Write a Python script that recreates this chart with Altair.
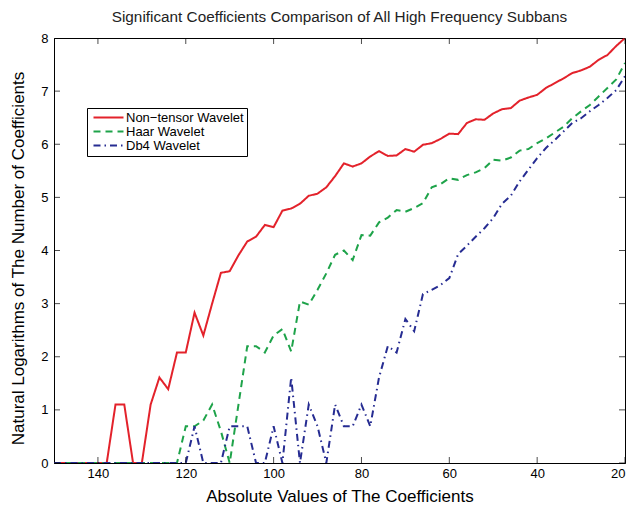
import altair as alt
import pandas as pd

# x positions (absolute coefficient values), 150 -> 20
x_vals = [150, 148, 146, 144, 142, 140, 138, 136, 134, 132, 130, 128, 126, 124, 122,
          120, 118, 116, 114, 112, 110, 108, 106, 104, 102, 100, 98, 96, 94, 92,
          90, 88, 86, 84, 82, 80, 78, 76, 74, 72, 70, 68, 66, 64, 62,
          60, 58, 56, 54, 52, 50, 48, 46, 44, 42, 40, 38, 36, 34, 32,
          30, 28, 26, 24, 22, 20]

nontensor = [0, 0, 0, 0, 0, 0, 0, 1.10, 1.10, 0, 0, 1.10, 1.61, 1.39, 2.08,
             2.08, 2.83, 2.40, 3.00, 3.58, 3.61, 3.91, 4.17, 4.26, 4.48, 4.44, 4.75, 4.79, 4.88, 5.03,
             5.07, 5.19, 5.40, 5.64, 5.58, 5.64, 5.77, 5.87, 5.78, 5.79, 5.91, 5.86, 5.99, 6.02, 6.10,
             6.20, 6.19, 6.40, 6.47, 6.46, 6.58, 6.66, 6.68, 6.82, 6.88, 6.93, 7.06, 7.15, 7.24, 7.34,
             7.39, 7.46, 7.59, 7.68, 7.85, 8.00]

haar = [0, 0, 0, 0, 0, 0, 0, 0, 0, 0, 0, 0, 0, 0, 0,
        0.69, 0.69, 0.80, 1.10, 0.60, 0, 1.10, 2.20, 2.20, 2.08, 2.40, 2.52, 2.10, 3.04, 2.98,
        3.26, 3.57, 3.92, 4.00, 3.82, 4.29, 4.28, 4.53, 4.62, 4.76, 4.73, 4.80, 4.89, 5.19, 5.25,
        5.36, 5.33, 5.42, 5.47, 5.55, 5.71, 5.69, 5.75, 5.88, 5.91, 6.02, 6.11, 6.22, 6.33, 6.49,
        6.62, 6.74, 6.90, 7.06, 7.22, 7.53]

db4 = [0, 0, 0, 0, 0, 0, 0, 0, 0, 0, 0, 0, 0, 0, 0,
       0, 0.69, 0, 0, 0, 0.69, 0.69, 0.69, 0, 0, 0.69, 0, 1.61, 0, 1.10,
       0.69, 0, 1.10, 0.69, 0.69, 1.10, 0.69, 1.61, 2.20, 2.08, 2.71, 2.48, 3.18, 3.26, 3.35,
       3.48, 3.93, 4.09, 4.26, 4.42, 4.61, 4.88, 5.03, 5.30, 5.52, 5.74, 5.93, 6.08, 6.24, 6.40,
       6.49, 6.62, 6.74, 6.87, 7.02, 7.28]

series_names = ["Non\u2212tensor Wavelet", "Haar Wavelet", "Db4 Wavelet"]
series_colors = ["#e3222b", "#1ea34a", "#262c92"]
series_dashes = [[1, 0], [7, 5], [7, 4, 1.5, 4]]

x_ticks = [140, 120, 100, 80, 60, 40, 20]
y_ticks = [0, 1, 2, 3, 4, 5, 6, 7, 8]
x_edges = [150, 20]
y_edges = [0, 8]

rows = []
for name, vals in zip(series_names, [nontensor, haar, db4]):
    for xv, yv in zip(x_vals, vals):
        rows.append({"x": xv, "y": yv, "series": name})
df = pd.DataFrame(rows)

tx_df = pd.DataFrame([{"x": t, "y": e} for t in x_ticks for e in y_edges])
ty_df = pd.DataFrame([{"x": e, "y": t} for t in y_ticks for e in x_edges])

FONT = "Liberation Sans"

x_scale = alt.Scale(domain=[20, 150], reverse=True, nice=False, zero=False)
y_scale = alt.Scale(domain=[0, 8], nice=False, zero=False)
x_axis = alt.Axis(values=x_ticks, title="Absolute Values of The Coefficients",
                  labelPadding=4, titlePadding=8, titleFontWeight="normal",
                  titleFontSize=17, labelFontSize=13)
y_axis = alt.Axis(values=y_ticks, title="Natural Logarithms of The Number of Coefficients",
                  labelPadding=6, titlePadding=13, titleFontWeight="normal",
                  titleFontSize=17, labelFontSize=13, titleY=220)

legend = alt.Legend(orient="none", legendX=33, legendY=70, title=None,
                    symbolType="M-1,0H5", symbolSize=100, symbolStrokeWidth=2,
                    labelFontSize=13, labelFont=FONT, labelColor="black",
                    strokeColor="black", fillColor="white", padding=3,
                    rowPadding=-1.5, labelOffset=21, symbolOffset=2)

lines = alt.Chart(df).mark_line(strokeWidth=2, clip=True).encode(
    x=alt.X("x:Q", scale=x_scale, axis=x_axis),
    y=alt.Y("y:Q", scale=y_scale, axis=y_axis),
    color=alt.Color("series:N", scale=alt.Scale(domain=series_names, range=series_colors),
                    legend=legend, sort=series_names),
    strokeDash=alt.StrokeDash("series:N", scale=alt.Scale(domain=series_names, range=series_dashes),
                              legend=legend, sort=series_names),
)

ticks_x = alt.Chart(tx_df).mark_tick(orient="vertical", size=12, thickness=1,
                                     color="black", clip=True).encode(
    x=alt.X("x:Q", scale=x_scale, axis=x_axis),
    y=alt.Y("y:Q", scale=y_scale, axis=y_axis),
)

ticks_y = alt.Chart(ty_df).mark_tick(orient="horizontal", size=12, thickness=1,
                                     color="black", clip=True).encode(
    x=alt.X("x:Q", scale=x_scale, axis=x_axis),
    y=alt.Y("y:Q", scale=y_scale, axis=y_axis),
)

chart = alt.layer(lines, ticks_x, ticks_y).properties(
    width=571, height=425,
    background="white",
    autosize=alt.AutoSizeParams(type="none"),
    padding={"left": 54, "top": 38, "right": 13, "bottom": 43},
    title=alt.Title("Significant Coefficients Comparison of All High Frequency Subbans",
                    fontSize=15.3, font=FONT, fontWeight="normal", color="#222",
                    anchor="middle", baseline="alphabetic", offset=15, dy=20),
).configure_view(stroke="black", strokeWidth=1).configure_axis(
    grid=False, ticks=False, domainColor="black", domainWidth=1,
    labelColor="black", labelFont=FONT, labelFontSize=13,
    titleColor="black", titleFont=FONT, titleFontSize=17, titleFontWeight="normal",
)

chart.save("out.html", embed_options={"renderer": "svg", "actions": False})
